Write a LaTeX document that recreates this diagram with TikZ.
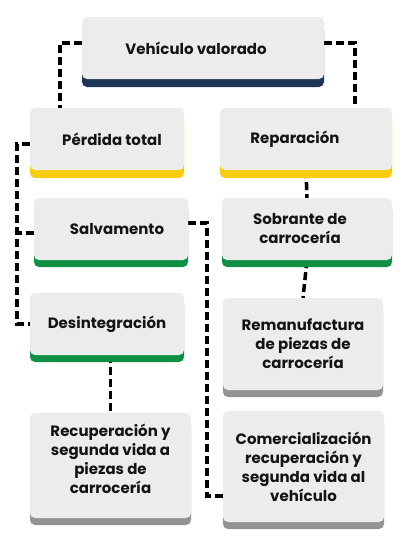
\documentclass[tikz,border=0pt]{standalone}
\usepackage{fontspec}
\setmainfont{Poppins}
\usepackage{tikz}
\usetikzlibrary{shadows,backgrounds}
\definecolor{boxgray}{HTML}{ECECEC}
\definecolor{bandnavy}{HTML}{1F3558}
\definecolor{bandyellow}{HTML}{F9CC0C}
\definecolor{bandgreen}{HTML}{0E9145}
\definecolor{bandgray}{HTML}{939393}
\definecolor{inkdark}{HTML}{141414}
\tikzset{%
  stagebox/.style = {shape=rectangle, rounded corners=5pt,%
                     fill=boxgray, align=center, text=inkdark,%
                     font=\bfseries\fontsize{15}{19}\selectfont},%
  navybox/.style  = {stagebox, general shadow={fill=bandnavy, shadow yshift=-8pt}},%
  yellowbox/.style= {stagebox, general shadow={fill=bandyellow, shadow yshift=-8pt}},%
  greenbox/.style = {stagebox, general shadow={fill=bandgreen, shadow yshift=-7pt}},%
  graybox/.style  = {stagebox, general shadow={fill=bandgray, shadow yshift=-7pt}},%
  link/.style     = {draw=black, line width=3.5pt, dash pattern=on 8pt off 4pt}%
}
\begin{document}
\begin{tikzpicture}[x=1pt,y=-1pt]
	\useasboundingbox (0,0) rectangle (417,550);
	\node[navybox, minimum width=242pt, minimum height=62pt] (veh) at (203,48) {Vehículo valorado\hspace*{14pt}};
	\node[yellowbox, minimum width=154pt, minimum height=62pt] (perd) at (107,139) {\hspace*{10pt}Pérdida total};
	\node[yellowbox, minimum width=172pt, minimum height=62pt] (rep) at (306,139) {Reparación\hspace*{22pt}};
	\node[greenbox, minimum width=154pt, minimum height=62pt] (salv) at (111,229) {\hspace*{12pt}Salvamento};
	\node[greenbox, minimum width=170pt, minimum height=62pt] (sobr) at (307,229) {Sobrante de\hspace*{14pt}\\carrocería\hspace*{14pt}};
	\node[greenbox, minimum width=154pt, minimum height=62pt] (desi) at (107,324) {Desintegración};
	\node[graybox, minimum width=160pt, minimum height=92pt] (reman) at (303,344) {Remanufactura\\de piezas de\\carrocería};
	\node[graybox, minimum width=161pt, minimum height=105pt] (recup) at (110.5,465.5) {Recuperación y\\segunda vida a\\piezas de\\carrocería\\[-6pt]\mbox{}};
	\node[graybox, minimum width=161pt, minimum height=111pt] (comer) at (303.5,466.5) {Comercialización\\recuperación y\\segunda vida al\\vehículo};
	% dashed connectors behind the boxes
	\begin{pgfonlayer}{background}
		\draw[link] ([yshift=5pt]veh.west) -| ([xshift=-47pt]perd.north);
		\draw[link] ([yshift=5pt]veh.east) -| ([xshift=49pt]rep.north);
		\draw[link] ([yshift=-5pt]perd.west) -- ++(-13,0) |- (desi.west);
		\draw[link] ([yshift=-4pt]salv.west) -- ++(-17,0);
		\draw[link] ([yshift=6pt]salv.east) -- ++(19,0) |- ([yshift=-29.5pt]comer.west);
		\draw[link] (rep.south) -- (sobr.north);
		\draw[link] (sobr.south) -- (reman.north);
		\draw[link] (desi.south -| recup.north) -- (recup.north);
	\end{pgfonlayer}
\end{tikzpicture}
\end{document}
